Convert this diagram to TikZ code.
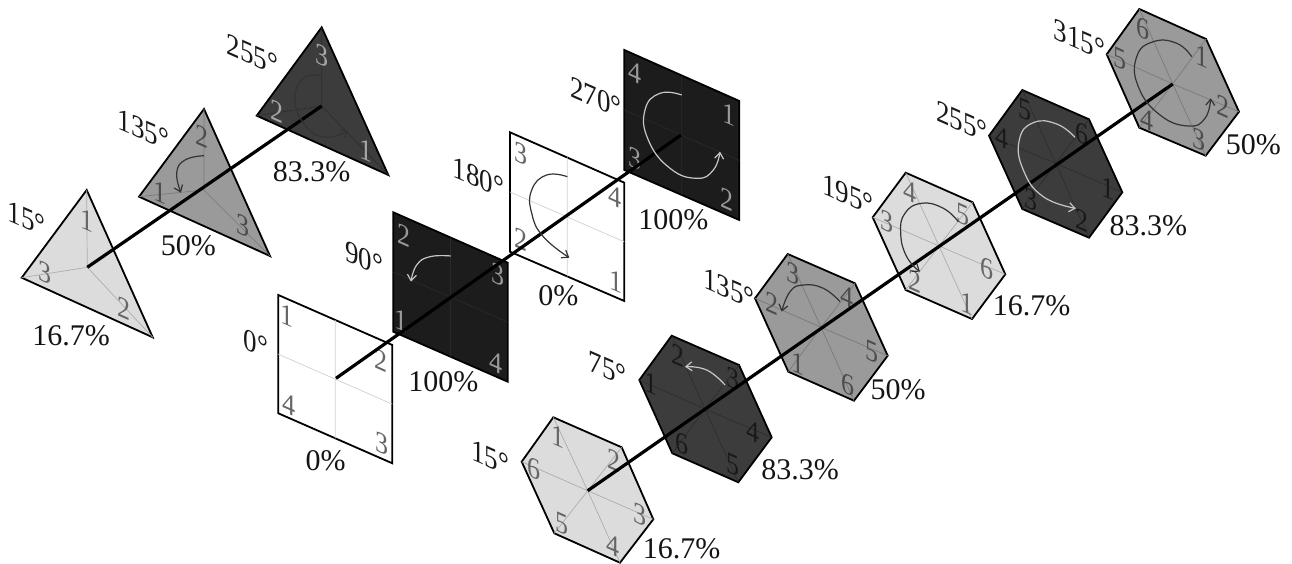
\documentclass[tikz,border=0pt]{standalone}
\usepackage{fontspec}
\setmainfont{Liberation Serif}
\usetikzlibrary{arrows.meta,calc}
\definecolor{cL}{HTML}{DCDCDC}\definecolor{cM}{HTML}{9A9A9A}\definecolor{cD}{HTML}{3C3C3C}\definecolor{cK}{HTML}{1C1C1C}
\tikzset{
 plateL/.style={draw=black,line width=1.8pt,fill=cL,line join=miter},
 plateM/.style={draw=black,line width=1.8pt,fill=cM,line join=miter},
 plateD/.style={draw=black,line width=1.8pt,fill=cD,line join=miter},
 plateK/.style={draw=black,line width=1.8pt,fill=cK,line join=miter},
 plateW/.style={draw=black,line width=1.8pt,fill=white,line join=miter},
 innerL/.style={draw=black!32,line width=.7pt},
 innerM/.style={draw=black!52,line width=.7pt},
 innerD/.style={draw=black!82,line width=.7pt},
 innerK/.style={draw=black!84,line width=.7pt},
 innerW/.style={draw=black!18,line width=.7pt},
 spine/.style={draw=black,line width=3.2pt},
 turnDark/.style={draw=black!80,line width=1.2pt,-{Straight Barb[length=6pt,width=9pt]}},
 turnLight/.style={draw=black!22,line width=1.2pt,-{Straight Barb[length=6pt,width=9pt]}},
 pct/.style={font=\fontsize{30}{34}\selectfont,inner sep=0pt,text=black!92},
}
% sheared text lying in the plane of the plates: name, x, y, colour, size, text
\newcommand\sheartext[6]{\node[cm={1,-0.44,0,1.15,(#2,#3)},transform shape,inner sep=0pt,text=#4,font=\fontsize{#5}{#5}\selectfont] (#1) at (0,0) {#6};}
\newcommand\numtext[5]{\sheartext{#1}{#2}{#3}{#4}{26}{#5}}
\newcommand\angtext[4]{\sheartext{#1}{#2}{#3}{black!90}{27}{#4}}
% triangle: name, L/M/D, centre, 3 vertices
\newcommand\triplate[6]{
 \coordinate (#1c) at (#3);\coordinate (#1a) at (#4);\coordinate (#1b) at (#5);\coordinate (#1d) at (#6);
 \draw[plate#2] (#1a)--(#1b)--(#1d)--cycle;
 \draw[inner#2] (#1c)--(#1a) (#1c)--(#1b) (#1c)--(#1d);
}
% square: name, K/W, centre, 4 vertices
\newcommand\squplate[7]{
 \coordinate (#1c) at (#3);\coordinate (#1a) at (#4);\coordinate (#1b) at (#5);\coordinate (#1d) at (#6);\coordinate (#1e) at (#7);
 \draw[plate#2] (#1a)--(#1b)--(#1d)--(#1e)--cycle;
 \draw[inner#2] ($(#1a)!.5!(#1b)$)--($(#1e)!.5!(#1d)$) ($(#1a)!.5!(#1e)$)--($(#1b)!.5!(#1d)$);
}
% hexagon: name, L/M/D, centre, 6 vertices
\newcommand\hexplate[9]{
 \coordinate (#1c) at (#3);\coordinate (#1a) at (#4);\coordinate (#1b) at (#5);\coordinate (#1d) at (#6);\coordinate (#1e) at (#7);\coordinate (#1f) at (#8);\coordinate (#1g) at (#9);
 \draw[plate#2] (#1a)--(#1b)--(#1d)--(#1e)--(#1f)--(#1g)--cycle;
 \draw[inner#2] (#1c)--(#1a) (#1c)--(#1b) (#1c)--(#1d) (#1c)--(#1e) (#1c)--(#1f) (#1c)--(#1g);
}
\begin{document}
\begin{tikzpicture}[x=1pt,y=-1pt]
\useasboundingbox (0,0) rectangle (1292,564);
\fill[white] (0,0) rectangle (1292,564);
% triangles
\triplate{ta}{L}{87.3,267.3}{86.7,190}{21.7,277.7}{152.7,337.3}
\triplate{tb}{M}{204,190}{204,109}{139,196.7}{270,256}
\triplate{tc}{D}{321.7,106}{321.7,27.3}{256.7,115.7}{388.3,175}
% squares
\squplate{sa}{W}{336,378.3}{278.3,295}{392.3,345}{392.3,463.3}{278.3,413.3}
\squplate{sb}{K}{450.7,296.7}{393.3,212.3}{507.7,262.7}{507.7,381.7}{393.3,331.7}
\squplate{sc}{W}{567.3,216.7}{510,132.3}{624.3,182.7}{624.3,301}{510,251.7}
\squplate{sd}{K}{681,135}{624.3,50}{739.3,101}{739.3,220}{624.3,170}
% hexagons
\hexplate{ha}{L}{587.7,490.7}{553.3,417.3}{621.7,447.3}{653.3,519.3}{620,562.7}{554.3,533.3}{521.7,461.7}
\hexplate{hb}{D}{705,409}{671.7,335.7}{739,365}{771.7,437.3}{738.3,482.3}{672.3,453.3}{639.3,380}
\hexplate{hc}{M}{821,327.3}{787.7,254}{855,283.3}{887.7,355.7}{854,400.7}{788.3,371.7}{755,298.3}
\hexplate{hd}{L}{939,246}{905.7,172.7}{972.7,202.3}{1005.3,274.3}{972,319}{905.7,290}{872.7,217.3}
\hexplate{he}{D}{1055.7,163.3}{1022.3,90}{1089,119.3}{1122.3,192.3}{1089,237.7}{1022.3,209}{989,135.7}
\hexplate{hf}{M}{1172.7,84}{1139.3,9}{1206,39}{1239,111.7}{1205.7,155.7}{1139.3,127.7}{1106.7,54.3}
% numbers
\numtext{ta1}{86.7}{220}{black!60}{1}\numtext{ta2}{124}{308}{black!60}{2}\numtext{ta3}{45}{273}{black!60}{3}
\numtext{tb1}{160}{192}{black!70}{1}\numtext{tb2}{201.7}{136.7}{black!70}{2}\numtext{tb3}{243.3}{226}{black!70}{3}
\numtext{tc1}{365.7}{150}{black!35}{1}\numtext{tc2}{276.7}{111.7}{black!35}{2}\numtext{tc3}{321.7}{56}{black!35}{3}
\numtext{sa1}{286.7}{315}{black!60}{1}\numtext{sa2}{380.7}{360}{black!60}{2}\numtext{sa3}{382.3}{443.3}{black!60}{3}\numtext{sa4}{289}{404.3}{black!60}{4}
\numtext{sb1}{400.7}{320}{black!40}{1}\numtext{sb2}{404}{235}{black!40}{2}\numtext{sb3}{497.7}{275}{black!40}{3}\numtext{sb4}{495.7}{362.7}{black!40}{4}
\numtext{sc1}{615.7}{281.7}{black!60}{1}\numtext{sc2}{520.7}{239}{black!60}{2}\numtext{sc3}{520.7}{153.3}{black!60}{3}\numtext{sc4}{615}{196.7}{black!60}{4}
\numtext{sd1}{729.3}{114}{black!40}{1}\numtext{sd2}{726.7}{199.3}{black!40}{2}\numtext{sd3}{635}{158.3}{black!40}{3}\numtext{sd4}{635}{72.3}{black!40}{4}
\numtext{ha1}{558.3}{436.7}{black!60}{1}\numtext{ha2}{614}{460}{black!60}{2}\numtext{ha3}{640}{515}{black!60}{3}\numtext{ha4}{613.3}{545.5}{black!60}{4}\numtext{ha5}{561.7}{524}{black!60}{5}\numtext{ha6}{534.3}{468.3}{black!60}{6}
\numtext{hb1}{651}{383.3}{black!90}{1}\numtext{hb2}{678.3}{355}{black!90}{2}\numtext{hb3}{733.3}{378.3}{black!90}{3}\numtext{hb4}{752.7}{431.7}{black!90}{4}\numtext{hb5}{733.3}{465}{black!90}{5}\numtext{hb6}{681.7}{444}{black!90}{6}
\numtext{hc1}{798.3}{363.3}{black!70}{1}\numtext{hc2}{771.7}{303.3}{black!70}{2}\numtext{hc3}{793.3}{273.3}{black!70}{3}\numtext{hc4}{846.7}{296.7}{black!70}{4}\numtext{hc5}{871.7}{351.7}{black!70}{5}\numtext{hc6}{848.3}{385}{black!70}{6}
\numtext{hd1}{966.7}{303.3}{black!60}{1}\numtext{hd2}{915}{281.7}{black!60}{2}\numtext{hd3}{887.3}{221.7}{black!60}{3}\numtext{hd4}{910}{191.7}{black!60}{4}\numtext{hd5}{962.7}{215}{black!60}{5}\numtext{hd6}{987.3}{268.3}{black!60}{6}
\numtext{he1}{1108.3}{188.3}{black!90}{1}\numtext{he2}{1082.3}{220}{black!90}{2}\numtext{he3}{1030.7}{200}{black!90}{3}\numtext{he4}{1001.7}{137.3}{black!90}{4}\numtext{he5}{1025}{110}{black!90}{5}\numtext{he6}{1081.7}{133.3}{black!90}{6}
\numtext{hf1}{1201.7}{56.7}{black!70}{1}\numtext{hf2}{1223.3}{106.7}{black!70}{2}\numtext{hf3}{1199.3}{140}{black!70}{3}\numtext{hf4}{1147.3}{119.3}{black!70}{4}\numtext{hf5}{1120}{58.3}{black!70}{5}\numtext{hf6}{1143.3}{28.3}{black!70}{6}
% spines
\draw[spine] (tac)--(tcc);
\draw[spine] (sac)--(sdc);
\draw[spine] (hac)--(hfc);
% rotation arrows
\draw[turnDark] plot[smooth,tension=.8] coordinates {(204,155.7)(185,160)(176.7,173)(181,192.7)};
\draw[turnDark] plot[smooth,tension=.8] coordinates {(321.7,75.7)(303.3,78.3)(295,100)(305,125)(325,137.3)(348.3,130.7)};
\draw[turnLight] plot[smooth,tension=.8] coordinates {(450.7,256)(430,256.7)(416.7,265)(411,281.7)};
\draw[turnDark] plot[smooth,tension=.8] coordinates {(567.3,176.7)(546.7,175)(531.7,190)(531.7,213.3)(543.3,236.7)(569.3,257.7)};
\draw[turnLight] plot[smooth,tension=.8] coordinates {(681.7,95)(660,93.3)(645,110)(648.3,140)(670,168.3)(696.7,178.3)(713.3,170)(720,151.7)};
\draw[turnLight] plot[smooth,tension=.8] coordinates {(725,385)(706.7,370)(685,366.7)};
\draw[turnDark] plot[smooth,tension=.8] coordinates {(840,301.7)(823.3,288.3)(803.3,285)(790,291.7)(781.7,311.7)};
\draw[turnDark] plot[smooth,tension=.8] coordinates {(958.3,221.7)(943.3,208.3)(921.7,203.3)(905,213.3)(900.7,233.3)(906.7,256.7)(920,271.7)};
\draw[turnLight] plot[smooth,tension=.8] coordinates {(1075,137.3)(1056.7,124)(1033.3,122.7)(1019.3,140)(1023.3,170)(1043.3,196.7)(1076,208.3)};
\draw[turnDark] plot[smooth,tension=.8] coordinates {(1191.7,56.7)(1176.7,43.3)(1153.3,41.7)(1136.7,56.7)(1138.3,86.7)(1160,115)(1188.3,126)(1205,118.3)(1210.7,98.3)};
% angles
\angtext{aa}{26.7}{218.3}{15°}\angtext{ab}{143.3}{129.3}{135°}\angtext{ac}{252.3}{55}{255°}
\angtext{ad}{256}{343.3}{0°}\angtext{ae}{364}{258.3}{90°}\angtext{af}{478.3}{177.3}{180°}\angtext{ag}{596}{97.3}{270°}
\angtext{ah}{490}{457.3}{15°}\angtext{ai}{607.7}{369}{75°}\angtext{aj}{729}{288.3}{135°}\angtext{ak}{848}{195}{195°}\angtext{al}{961.7}{121.7}{255°}\angtext{am}{1079.3}{39.3}{315°}
% percentages
\node[pct] (pa) at (71,336) {16.7\%};
\node[pct] (pb) at (188.3,246) {50\%};
\node[pct] (pc) at (311.7,171.7) {83.3\%};
\node[pct] (pd) at (325.7,460.7) {0\%};
\node[pct] (pe) at (443.3,381.7) {100\%};
\node[pct] (pf) at (558.3,296) {0\%};
\node[pct] (pg) at (673.3,219.3) {100\%};
\node[pct] (ph) at (681.7,549) {16.7\%};
\node[pct] (pi) at (800,469.3) {83.3\%};
\node[pct] (pj) at (898,390) {50\%};
\node[pct] (pk) at (1031.7,306) {16.7\%};
\node[pct] (pl) at (1148.3,225.7) {83.3\%};
\node[pct] (pm) at (1253.3,145) {50\%};
\end{tikzpicture}
\end{document}
